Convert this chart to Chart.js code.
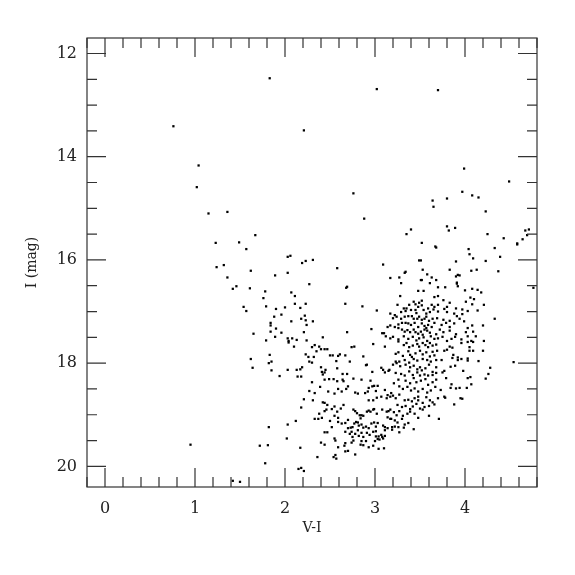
<!DOCTYPE html>
<html>
<head>
<meta charset="utf-8">
<script src="https://cdn.jsdelivr.net/npm/chart.js@4.4.1/dist/chart.umd.min.js"></script>
<style>
  html, body { margin: 0; padding: 0; background: #fff; }
  #wrap { width: 575px; height: 575px; }
</style>
</head>
<body>
<div id="wrap"><canvas id="cmd" width="575" height="575"></canvas></div>
<script>
// axis ranges and labelled ticks
const xRange = [-0.2, 4.8];
const yRange = [11.7, 20.4];
const xTicks = [0, 1, 2, 3, 4];
const yTicks = [12, 14, 16, 18, 20];

const brightStars = [
  [1.83,12.48],[3.02,12.69],[3.70,12.71],[0.76,13.41],[2.21,13.49],[1.04,14.17],[3.99,14.23],[4.49,14.48],
  [1.02,14.59],[2.76,14.71],[3.97,14.68],[4.08,14.75],[4.15,14.79],[3.64,14.85],[3.80,14.81],[3.65,14.97],
  [4.23,15.06],[1.15,15.10],[1.36,15.07],[2.88,15.20],[3.80,15.35],[3.82,15.43],[3.89,15.38],[3.40,15.41],
  [3.35,15.50],[4.25,15.50],[4.67,15.43],[4.71,15.41],[4.69,15.52],[4.43,15.58],[4.64,15.60],[4.58,15.68],
  [4.58,15.70],[1.67,15.52],[1.23,15.67],[1.49,15.66],[1.57,15.79],[3.52,15.67],[3.67,15.74],[3.68,15.76],
  [4.33,15.77],[4.04,15.79]
];

const blueBranch = [
  [2.03,15.94],[2.06,15.92],[1.24,16.14],[1.32,16.10],[1.62,16.21],[2.03,16.25],[1.36,16.34],[1.89,16.30],
  [1.42,16.56],[1.46,16.51],[1.61,16.55],[1.78,16.61],[1.76,16.74],[2.07,16.63],[2.11,16.70],[2.11,16.85],
  [1.54,16.91],[1.57,16.99],[1.79,16.90],[1.90,16.95],[2.00,16.92],[1.88,17.10],[1.96,17.06],[2.07,17.19],
  [1.84,17.22],[1.84,17.27],[1.90,17.33],[1.65,17.43],[1.84,17.39],[1.96,17.41],[1.89,17.49],[1.79,17.56],
  [2.03,17.52],[2.04,17.57],[2.04,17.60],[2.08,17.52],[2.13,17.55],[2.10,17.68],[1.83,17.84],[1.62,17.92],
  [1.85,17.97],[1.82,18.00],[1.64,18.09],[1.85,18.14],[2.03,18.13],[2.13,18.13],[1.94,18.25],[2.14,18.26],
  [2.12,19.12],[2.03,19.19],[1.82,19.24],[2.02,19.46],[0.95,19.58],[1.72,19.60],[1.81,19.59],[1.78,19.94],
  [2.15,20.05],[2.18,20.03],[2.21,20.09],[1.42,20.28],[1.50,20.30],[2.36,19.82],[2.17,19.64]
];

const subgiants = [
  [2.19,16.06],[2.23,16.02],[2.31,16.00],[2.58,16.16],[2.27,16.47],[2.69,16.52],[2.68,16.54],[2.23,16.85],
  [2.17,16.93],[2.67,16.85],[2.86,16.90],[3.02,16.98],[2.22,17.08],[2.18,17.14],[2.23,17.17],[2.31,17.19],
  [2.24,17.26],[2.21,17.40],[2.69,17.40],[2.96,17.34]
];

const lowerSequence = [
  [2.24,17.56],[2.30,17.69],[2.33,17.65],[2.35,17.77],[2.38,17.68],[2.40,17.73],[2.42,17.50],[2.44,17.73],
  [2.47,17.73],[2.50,17.85],[2.53,17.85],[2.59,17.86],[2.61,17.83],[2.67,17.85],[2.74,17.69],[2.77,17.68],
  [2.87,17.87],[2.98,17.63],[3.11,17.68],[2.23,17.83],[2.26,17.88],[2.27,17.97],[2.30,17.99],[2.32,17.88],
  [2.57,17.96],[2.72,17.97],[2.90,18.04],[2.91,18.03],[2.97,18.17],[3.07,18.09],[3.09,18.13],[3.11,18.18],
  [3.15,18.15],[3.16,18.13],[2.17,18.12],[2.19,18.08],[2.18,18.26],[2.40,18.08],[2.41,18.17],[2.44,18.18],
  [2.45,18.13],[2.42,18.22],[2.58,18.10],[2.64,18.21],[2.69,18.21],[2.30,18.37],[2.27,18.54],[2.33,18.58],
  [2.31,18.72],[2.21,18.70],[2.18,18.86],[2.44,18.32],[2.49,18.31],[2.54,18.31],[2.58,18.35],[2.64,18.32],
  [2.65,18.35],[2.76,18.30],[2.85,18.32],[2.95,18.34],[2.97,18.45],[2.99,18.44],[3.03,18.44],[3.11,18.52],
  [3.17,18.65],[2.39,18.46],[2.48,18.55],[2.55,18.59],[2.59,18.50],[2.63,18.55],[2.68,18.50],[2.70,18.45],
  [2.78,18.57],[2.81,18.59],[2.89,18.58],[2.92,18.55],[2.93,18.48],[3.01,18.54],[2.93,18.72],[2.98,18.72],
  [3.02,18.67],[3.07,18.65],[3.13,18.68],[3.14,18.62],[2.42,18.76],[2.44,18.77],[2.47,18.81],[2.44,18.93],
  [2.38,18.98],[2.37,19.08],[2.33,19.08],[2.41,19.06],[2.46,18.90],[2.52,18.89],[2.55,18.84],[2.55,19.02],
  [2.58,18.94],[2.59,19.06],[2.62,18.88],[2.65,18.81],[2.70,19.10],[2.76,18.90],[2.78,18.93],[2.80,18.97],
  [2.83,19.01],[2.85,19.01],[2.87,19.02],[2.84,19.07],[2.91,18.94],[2.93,18.92],[2.95,18.94],[2.98,18.90],
  [2.99,18.89],[3.02,18.98],[3.08,18.90],[3.13,18.94],[3.15,18.93],[3.14,19.05],[3.17,19.08],[2.50,19.12],
  [2.52,19.24],[2.59,19.14],[2.63,19.17],[2.67,19.16],[2.70,19.26],[2.73,19.25],[2.75,19.24],[2.77,19.17],
  [2.79,19.14],[2.81,19.15],[2.82,19.21],[2.85,19.19],[2.87,19.25],[2.90,19.23],[2.93,19.26],[2.96,19.17],
  [2.99,19.15],[3.01,19.23],[3.03,19.16],[3.09,19.21],[3.11,19.24],[3.14,19.26],[2.67,19.33],[2.72,19.37],
  [2.74,19.33],[2.75,19.43],[2.78,19.37],[2.81,19.30],[2.82,19.41],[2.85,19.35],[2.87,19.43],[2.91,19.35],
  [2.94,19.39],[2.98,19.33],[3.01,19.32],[3.04,19.42],[3.07,19.39],[3.09,19.46],[3.11,19.41],[3.11,19.30],
  [2.44,19.34],[2.47,19.34],[2.55,19.46],[3.01,19.42],[3.08,19.43],[3.03,19.47]
];

const faintEnd = [
  [2.40,19.54],[2.44,19.58],[2.56,19.50],[2.59,19.63],[2.66,19.60],[2.67,19.55],[2.56,19.78],[2.54,19.82],
  [2.57,19.85],[2.67,19.71],[2.70,19.70],[2.78,19.77],[2.74,19.54],[2.76,19.50],[2.84,19.58],[2.87,19.59],
  [2.85,19.51],[2.90,19.51],[2.93,19.63],[2.98,19.60],[3.04,19.66],[3.10,19.65],[3.00,19.51],[3.05,19.48]
];

const giantUpper = [
  [3.49,16.01],[3.51,16.01],[3.09,16.09],[3.53,16.19],[3.33,16.25],[3.34,16.23],[3.58,16.28],[3.63,16.34],
  [3.17,16.35],[3.27,16.34],[3.51,16.39],[3.52,16.39],[3.68,16.39],[3.29,16.45],[3.61,16.45],[3.70,16.53],
  [3.48,16.60],[3.54,16.60],[3.08,17.42],[3.10,17.42]
];

const clumpCore = [
  [3.28,16.70],[3.66,16.72],[3.70,16.70],[4.01,16.81],[4.06,16.73],[4.10,16.76],[3.52,16.79],[3.76,16.78],
  [3.43,16.81],[3.45,16.86],[3.48,16.91],[3.49,16.83],[3.52,16.88],[3.59,16.94],[3.63,16.87],[3.66,16.91],
  [3.70,16.87],[3.80,16.91],[3.83,16.83],[3.25,16.87],[3.32,16.94],[3.35,16.94],[3.38,16.87],[3.90,16.94],
  [3.97,16.96],[4.08,16.86],[3.29,17.01],[3.34,16.99],[3.40,16.97],[3.45,16.97],[3.46,17.03],[3.54,16.97],
  [3.57,17.04],[3.61,17.01],[3.65,16.96],[3.70,17.00],[3.77,16.95],[3.80,17.01],[3.88,17.04],[3.97,17.05],
  [4.03,16.99],[3.22,17.07],[3.17,17.04],[3.20,17.13],[3.24,17.10],[3.29,17.14],[3.33,17.10],[3.37,17.09],
  [3.41,17.09],[3.43,17.14],[3.47,17.14],[3.49,17.10],[3.52,17.16],[3.55,17.14],[3.57,17.10],[3.60,17.18],
  [3.64,17.14],[3.69,17.13],[3.76,17.16],[3.83,17.18],[3.91,17.09],[3.94,17.14],[3.99,17.19],[3.14,17.30],
  [3.17,17.27],[3.22,17.30],[3.26,17.25],[3.30,17.22],[3.34,17.22],[3.37,17.23],[3.40,17.26],[3.44,17.22],
  [3.48,17.30],[3.52,17.23],[3.55,17.28],[3.57,17.32],[3.59,17.26],[3.63,17.30],[3.66,17.22],[3.74,17.26],
  [3.79,17.22],[3.83,17.30],[3.88,17.23],[4.03,17.32],[4.08,17.27],[3.26,17.32],[3.30,17.35],[3.33,17.39],
  [3.36,17.36],[3.39,17.40],[3.43,17.35],[3.45,17.40],[3.48,17.43],[3.51,17.39],[3.53,17.45],[3.55,17.35],
  [3.58,17.37],[3.61,17.41],[3.68,17.44],[3.72,17.35],[3.76,17.40],[3.83,17.37],[3.90,17.44],[4.01,17.40],
  [4.09,17.39],[3.12,17.48],[3.17,17.52],[3.20,17.49],[3.26,17.54],[3.32,17.48],[3.37,17.53],[3.42,17.49],
  [3.46,17.56],[3.49,17.52],[3.54,17.50],[3.58,17.57],[3.62,17.48],[3.66,17.53],[3.70,17.52],[3.75,17.49],
  [3.80,17.57],[3.85,17.53],[3.89,17.49],[3.96,17.54],[4.03,17.48],[4.07,17.57]
];

const giantCore = [
  [3.26,17.58],[3.32,17.65],[3.35,17.61],[3.38,17.69],[3.42,17.66],[3.47,17.63],[3.49,17.68],[3.53,17.61],
  [3.56,17.65],[3.59,17.69],[3.61,17.61],[3.64,17.66],[3.68,17.64],[3.23,17.82],[3.26,17.79],[3.31,17.86],
  [3.37,17.77],[3.39,17.84],[3.41,17.88],[3.45,17.81],[3.50,17.76],[3.53,17.83],[3.57,17.79],[3.61,17.87],
  [3.64,17.78],[3.66,17.85],[3.69,17.76],[3.23,17.97],[3.27,17.97],[3.33,17.94],[3.38,17.99],[3.43,17.92],
  [3.47,17.95],[3.53,17.92],[3.58,17.94],[3.62,17.97],[3.68,17.94],[3.20,18.03],[3.24,18.00],[3.28,18.06],
  [3.34,18.03],[3.39,18.08],[3.43,18.05],[3.47,18.12],[3.50,18.08],[3.52,18.14],[3.56,18.10],[3.60,18.03],
  [3.64,18.17],[3.68,18.08],[3.23,18.19],[3.29,18.21],[3.33,18.24],[3.38,18.16],[3.42,18.23],[3.47,18.18],
  [3.50,18.24],[3.55,18.22],[3.59,18.24],[3.64,18.23],[3.68,18.19],[3.21,18.39],[3.26,18.32],[3.34,18.34],
  [3.39,18.39],[3.43,18.29],[3.46,18.37],[3.51,18.34],[3.56,18.31],[3.59,18.42],[3.64,18.37],[3.68,18.32],
  [3.27,18.45],[3.31,18.50],[3.36,18.46],[3.40,18.53],[3.44,18.49],[3.48,18.55],[3.53,18.50],[3.58,18.57],
  [3.62,18.53],[3.67,18.46],[3.18,18.58],[3.20,18.63],[3.23,18.68],[3.27,18.61],[3.33,18.72],[3.37,18.71],
  [3.41,18.74],[3.44,18.68],[3.48,18.72],[3.53,18.77],[3.57,18.66],[3.61,18.72],[3.66,18.80],[3.70,18.68],
  [3.78,18.67],[3.88,18.80],[3.25,18.81],[3.30,18.85],[3.34,18.83],[3.39,18.89],[3.42,18.84],[3.46,18.79],
  [3.50,18.88],[3.55,18.85],[3.60,18.83],[3.64,18.76],[3.48,18.65],[3.17,18.90],[3.21,18.95],[3.24,19.01],
  [3.27,18.93],[3.31,19.02],[3.36,18.98],[3.39,18.94],[3.44,18.98],[3.48,19.06],[3.53,18.90],[3.60,19.02],
  [3.71,19.08],[3.18,19.08],[3.22,19.11],[3.25,19.15],[3.30,19.08],[3.33,19.19],[3.37,19.16],[3.43,19.28],
  [3.19,19.24],[3.22,19.23],[3.26,19.24],[3.32,19.25],[3.19,19.29],[3.27,19.34]
];

const redEdge = [
  [4.05,15.89],[4.09,15.97],[4.39,15.94],[3.90,16.03],[4.23,16.02],[3.83,16.19],[4.07,16.21],[4.13,16.19],
  [4.37,16.22],[3.90,16.32],[3.92,16.29],[3.94,16.30],[3.91,16.44],[3.92,16.51],[3.91,16.46],[4.76,16.54],
  [3.78,16.53],[4.00,16.59],[4.08,16.56],[4.14,16.58],[4.18,16.63],[4.21,16.87],[4.14,16.98],[4.33,17.14],
  [4.20,17.27],[4.12,17.48],[4.21,17.57],[4.09,17.59],[4.03,17.59],[3.96,17.61],[3.83,17.68],[3.86,17.70],
  [4.05,17.69],[4.05,17.76],[4.09,17.76],[4.20,17.76],[3.77,17.76],[3.80,17.74],[3.87,17.84],[3.86,17.90],
  [3.92,17.89],[3.96,17.92],[3.92,17.94],[4.03,17.91],[4.03,17.95],[4.15,17.96],[4.54,17.98],[3.74,17.94],
  [4.28,18.09],[4.26,18.21],[4.23,18.30],[3.98,18.15],[4.03,18.29],[4.06,18.27],[3.84,18.07],[3.89,18.05],
  [3.77,18.15],[3.75,18.18],[3.79,18.29],[3.85,18.41],[3.84,18.48],[3.90,18.49],[3.94,18.48],[4.02,18.48],
  [4.07,18.41],[3.95,18.68],[3.97,18.69],[3.77,18.65],[3.73,18.52]
];

const allStars = [].concat(brightStars, blueBranch, subgiants, lowerSequence, faintEnd,
  giantUpper, clumpCore, giantCore, redEdge);

const serif = "'DejaVu Serif', 'Liberation Serif', serif";
const inkColor = "#222";

// box frame with inward ticks on all four sides
const frameTicks = {
  id: "frameTicks",
  afterDraw(chart) {
    const { ctx, chartArea: area, scales } = chart;
    const isMajor = (v, list) => list.some((t) => Math.abs(t - v) < 1e-6);
    ctx.save();
    ctx.strokeStyle = "#333";
    ctx.lineWidth = 1.2;
    ctx.strokeRect(area.left, area.top, area.right - area.left, area.bottom - area.top);
    ctx.beginPath();
    for (let i = -1; i <= 24; i++) {
      const v = Math.round(i * 2) / 10;
      const px = scales.x.getPixelForValue(v);
      const len = isMajor(v, xTicks) ? 19 : 10;
      ctx.moveTo(px, area.bottom);
      ctx.lineTo(px, area.bottom - len);
      ctx.moveTo(px, area.top);
      ctx.lineTo(px, area.top + len);
    }
    for (let i = 24; i <= 40; i++) {
      const v = i / 2;
      const py = scales.y.getPixelForValue(v);
      const len = isMajor(v, yTicks) ? 19 : 10;
      ctx.moveTo(area.left, py);
      ctx.lineTo(area.left + len, py);
      ctx.moveTo(area.right, py);
      ctx.lineTo(area.right - len, py);
    }
    ctx.stroke();
    ctx.restore();
  }
};

new Chart(document.getElementById("cmd"), {
  type: "scatter",
  data: {
    datasets: [{
      data: allStars.map(([x, y]) => ({ x, y })),
      pointStyle: "rect",
      pointRadius: 1.6,
      pointBorderWidth: 0,
      backgroundColor: "#000",
      borderColor: "#000"
    }]
  },
  options: {
    responsive: false,
    animation: false,
    devicePixelRatio: 1,
    layout: {
      padding: { top: 38, right: 38, left: 0, bottom: 0 }
    },
    plugins: {
      legend: { display: false },
      tooltip: { enabled: false }
    },
    scales: {
      x: {
        type: "linear",
        min: xRange[0],
        max: xRange[1],
        grid: { display: false, drawTicks: false },
        border: { display: false },
        afterBuildTicks(scale) {
          scale.ticks = xTicks.map((value) => ({ value }));
        },
        afterFit(scale) {
          scale.height = 88;
        },
        ticks: {
          color: inkColor,
          font: { family: serif, size: 16 },
          padding: 12,
          autoSkip: false,
          maxRotation: 0
        },
        title: {
          display: true,
          text: "V-I",
          color: inkColor,
          font: { family: serif, size: 14 },
          padding: { top: 0, bottom: 38 }
        }
      },
      y: {
        type: "linear",
        reverse: true,
        min: yRange[0],
        max: yRange[1],
        grid: { display: false, drawTicks: false },
        border: { display: false },
        afterBuildTicks(scale) {
          scale.ticks = yTicks.map((value) => ({ value }));
        },
        afterFit(scale) {
          scale.width = 87;
        },
        ticks: {
          color: inkColor,
          font: { family: serif, size: 16 },
          padding: 10,
          autoSkip: false
        },
        title: {
          display: true,
          text: "I (mag)",
          color: inkColor,
          font: { family: serif, size: 14 },
          padding: { top: 24, bottom: 0 }
        }
      }
    }
  },
  plugins: [frameTicks]
});
</script>
</body>
</html>
